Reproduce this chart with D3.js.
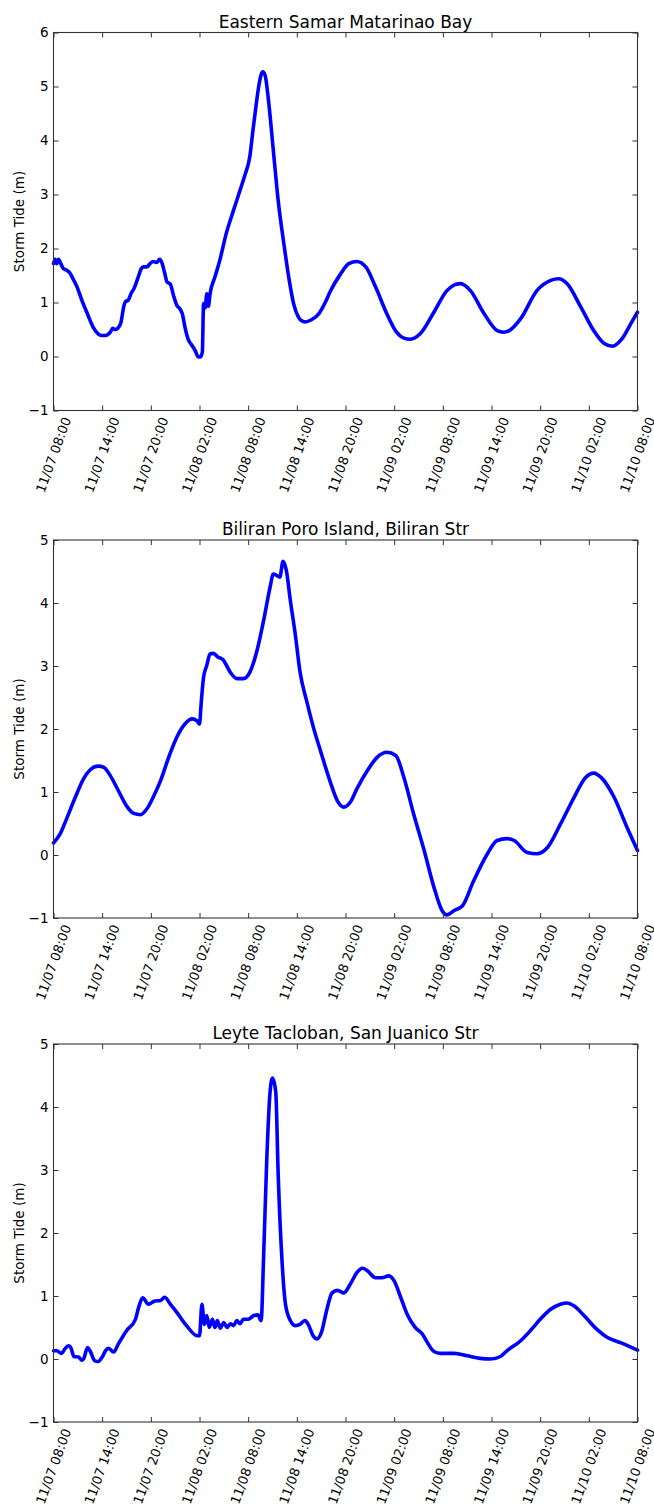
<!DOCTYPE html>
<html><head><meta charset="utf-8">
<script src="https://cdn.jsdelivr.net/npm/d3@7"></script>
<style>body{margin:0;background:#fff}svg{display:block}text{font-family:"DejaVu Sans",sans-serif;fill:#000}</style>
</head><body>
<script>
const tickHours = [0,6,12,18,24,30,36,42,48,54,60,66,72];
const tickLabels = ["11/07 08:00","11/07 14:00","11/07 20:00","11/08 02:00","11/08 08:00","11/08 14:00","11/08 20:00","11/09 02:00","11/09 08:00","11/09 14:00","11/09 20:00","11/10 02:00","11/10 08:00"];
const titles = ["Eastern Samar Matarinao Bay","Biliran Poro Island, Biliran Str","Leyte Tacloban, San Juanico Str"];
const yDomains = [[-1,6],[-1,5],[-1,5]];
const yLabel = "Storm Tide (m)";

const samarHours = [0,0.2,0.4,0.6,0.9,1.2,1.6,2.0,2.3,2.9,3.5,4.1,4.9,5.5,5.9,6.4,7.0,7.3,7.6,7.9,8.3,8.7,8.9,9.2,9.6,9.9,10.4,10.8,11.1,11.5,11.9,12.3,12.7,13.1,13.4,13.7,14.0,14.4,14.8,15.2,15.6,15.9,16.2,16.6,17.1,17.5,17.8,18.1,18.35,18.5,18.7,18.9,19.1,19.3,19.9,20.5,21.3,22.2,23.0,23.6,24.2,24.6,24.9,25.3,25.6,25.8,26.1,26.5,27.1,27.7,28.4,29.0,29.6,30.2,30.6,31.0,31.8,32.7,33.5,34.1,35.4,36.4,37.4,38.5,39.7,41.1,42.3,43.2,44.0,45.2,46.9,48.5,49.5,50.2,51.4,53.1,54.7,55.5,56.2,57.6,59.6,61.3,62.3,63.3,65.0,66.6,67.9,68.9,70.1,71.3,72];
const samarTide = [1.72,1.8,1.72,1.8,1.72,1.63,1.6,1.55,1.47,1.29,1.04,0.82,0.54,0.42,0.39,0.39,0.45,0.52,0.5,0.52,0.62,0.95,1.02,1.04,1.18,1.25,1.45,1.62,1.66,1.66,1.72,1.76,1.74,1.8,1.72,1.55,1.38,1.34,1.13,0.95,0.88,0.78,0.55,0.32,0.2,0.1,0.0,-0.01,0.08,0.98,0.9,1.16,0.93,1.16,1.47,1.78,2.28,2.71,3.08,3.36,3.7,4.2,4.56,5.0,5.22,5.27,5.2,4.75,3.82,2.89,2.09,1.47,0.98,0.73,0.66,0.64,0.68,0.79,1.0,1.2,1.53,1.72,1.76,1.66,1.29,0.79,0.45,0.34,0.32,0.42,0.82,1.22,1.33,1.35,1.22,0.79,0.48,0.45,0.48,0.7,1.22,1.41,1.44,1.35,0.92,0.48,0.24,0.19,0.33,0.64,0.82];

const biliranHours = [0,0.8,1.6,2.7,3.7,4.5,5.5,6.2,7.0,8.0,9.0,9.9,10.7,11.5,12.3,13.2,14.2,15.2,16.2,17.1,17.7,18.0,18.2,18.5,18.9,19.3,19.7,20.3,20.9,21.8,22.6,23.4,24.2,25.1,25.9,26.7,27.1,27.5,27.9,28.3,28.7,29.2,29.8,30.4,31.2,32.1,32.9,34.15,35.0,35.8,36.6,37.4,38.7,39.9,41.1,42.2,43.2,44.4,45.7,46.9,47.9,48.5,49.4,50.4,51.8,53.5,54.7,55.9,56.8,58.4,59.6,60.9,62.5,64.2,65.6,66.6,67.6,69.1,70.7,72];
const biliranTide = [0.19,0.33,0.57,0.92,1.21,1.35,1.41,1.39,1.26,1.02,0.78,0.66,0.64,0.73,0.92,1.18,1.55,1.87,2.08,2.16,2.13,2.08,2.4,2.82,3.01,3.19,3.2,3.14,3.1,2.9,2.8,2.8,2.9,3.25,3.72,4.25,4.46,4.44,4.41,4.66,4.52,4.04,3.51,2.9,2.45,2.0,1.66,1.15,0.86,0.76,0.84,1.05,1.34,1.55,1.63,1.58,1.23,0.65,0.07,-0.51,-0.88,-0.95,-0.88,-0.81,-0.41,0.02,0.23,0.26,0.23,0.04,0.02,0.12,0.49,0.92,1.23,1.3,1.22,0.92,0.44,0.07];

const leyteHours = [0,0.4,1.0,1.4,1.85,2.2,2.5,3.1,3.5,3.7,4.2,4.5,5.1,5.5,6.0,6.4,6.8,7.4,8.0,9.0,10.1,10.5,11.0,11.7,12.5,13.2,13.7,14.4,15.2,16.4,17.7,18.0,18.3,18.6,18.9,19.2,19.6,19.9,20.2,20.55,21.0,21.4,21.8,22.2,22.6,23.0,23.4,24.0,24.7,25.2,25.6,25.9,26.3,26.7,27.0,27.4,27.7,28.2,28.6,29.2,29.8,30.4,31.0,31.4,32.0,32.5,33.1,33.6,34.35,35.0,35.8,36.6,37.4,38.1,38.7,39.7,40.5,41.3,42.0,42.8,43.6,44.6,45.45,46.1,46.9,47.7,49.4,51.0,52.6,53.9,55.1,55.9,57.6,58.8,60.0,61.3,62.5,63.3,64.2,65.4,67.0,68.3,69.9,72];
const leyteTide = [0.13,0.13,0.09,0.16,0.21,0.16,0.04,0.03,-0.02,0.0,0.18,0.13,-0.03,-0.04,0.03,0.13,0.17,0.11,0.24,0.45,0.63,0.82,0.97,0.87,0.92,0.93,0.98,0.87,0.74,0.53,0.37,0.37,0.87,0.55,0.69,0.5,0.63,0.5,0.61,0.49,0.58,0.5,0.56,0.53,0.61,0.56,0.63,0.63,0.69,0.7,0.61,1.61,3.19,4.24,4.46,4.24,2.93,1.5,0.87,0.61,0.53,0.55,0.61,0.55,0.37,0.32,0.45,0.73,1.05,1.09,1.05,1.19,1.37,1.44,1.4,1.29,1.29,1.32,1.24,0.98,0.71,0.5,0.4,0.26,0.12,0.09,0.09,0.05,0.01,0.0,0.04,0.13,0.29,0.45,0.63,0.79,0.87,0.89,0.84,0.69,0.47,0.34,0.26,0.14];

const seriesHours = [samarHours, biliranHours, leyteHours];
const seriesTide = [samarTide, biliranTide, leyteTide];

const W = 654, H = 1509;
const left = 53.5, right = 637.5, plotH = 378;
const tops = [32.5, 540, 1044];

const svg = d3.select("body").append("svg").attr("width", W).attr("height", H);
const x = d3.scaleLinear().domain([0,72]).range([left,right]);
const ang = 70 * Math.PI/180;

tops.forEach((top, i) => {
  const bottom = top + plotH;
  const y = d3.scaleLinear().domain(yDomains[i]).range([bottom, top]);
  const yTicks = d3.range(yDomains[i][0], yDomains[i][1] + 1);
  const g = svg.append("g");

  const data = seriesHours[i].map((h, k) => [h, seriesTide[i][k]]);
  g.append("path").datum(data)
    .attr("fill","none").attr("stroke","#0000ff").attr("stroke-width",3.6)
    .attr("stroke-linejoin","round").attr("stroke-linecap","round")
    .attr("d", d3.line().x(d => x(d[0])).y(d => y(d[1])).curve(d3.curveMonotoneX));

  const axB = g.append("g").attr("transform",`translate(0,${bottom})`)
    .call(d3.axisBottom(x).tickValues(tickHours).tickSize(-5).tickFormat(""));
  const axT = g.append("g").attr("transform",`translate(0,${top})`)
    .call(d3.axisTop(x).tickValues(tickHours).tickSize(-5).tickFormat(""));
  const axL = g.append("g").attr("transform",`translate(${left},0)`)
    .call(d3.axisLeft(y).tickValues(yTicks).tickSize(-5).tickPadding(5)
      .tickFormat(d => d < 0 ? "\u2212" + Math.abs(d) : d));
  const axR = g.append("g").attr("transform",`translate(${right},0)`)
    .call(d3.axisRight(y).tickValues(yTicks).tickSize(-5).tickFormat(""));
  [axB, axT, axL, axR].forEach(a => {
    a.select(".domain").remove();
    a.selectAll("line").attr("stroke","#333").attr("stroke-width",1);
  });
  axL.selectAll("text").attr("font-size",13.5).attr("fill","#000")
    .attr("font-family","DejaVu Sans");

  g.append("rect").attr("x",left).attr("y",top).attr("width",right-left).attr("height",plotH)
    .attr("fill","none").attr("stroke","#333").attr("stroke-width",1.1);

  tickHours.forEach((h, k) => {
    const t = g.append("text").attr("font-size",13)
      .attr("text-anchor","middle").attr("dominant-baseline","central")
      .text(tickLabels[k]);
    const L = t.node().getComputedTextLength();
    const th = 13;
    const boxH = L*Math.sin(ang) + th*Math.cos(ang);
    t.attr("transform",`translate(${x(h)},${bottom + 5 + boxH/2}) rotate(-70)`);
  });

  g.append("text").attr("x",(left+right)/2).attr("y",top-5)
    .attr("text-anchor","middle").attr("font-size",17).text(titles[i]);

  g.append("text").attr("transform",`translate(24,${top+plotH/2}) rotate(-90)`)
    .attr("text-anchor","middle").attr("font-size",13.5).text(yLabel);
});
</script>
</body></html>
